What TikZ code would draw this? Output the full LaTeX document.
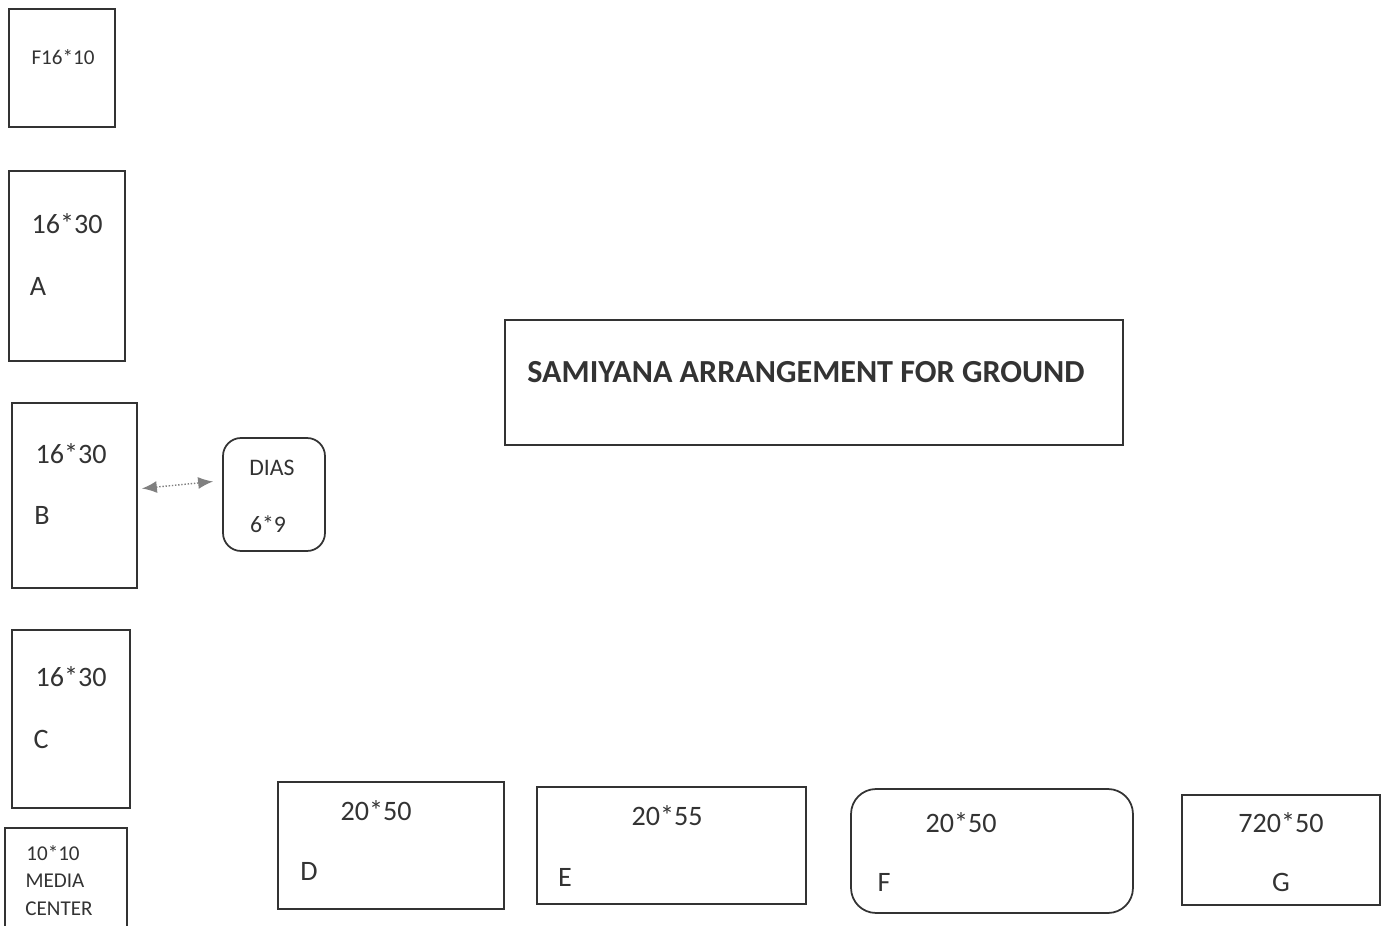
\documentclass[tikz,border=0pt]{standalone}
\usepackage{fontspec}
\setmainfont{Carlito}
\usetikzlibrary{arrows.meta,calc}

\begin{document}
\begin{tikzpicture}[
  x=0.02cm, y=-0.02cm,
  plot/.style={draw=black!80, line width=1pt, inner sep=0pt},
  lbl/.style={inner sep=0pt, text=black!80, font=\fontsize{16}{19}\selectfont},
  small/.style={inner sep=0pt, text=black!80, font=\fontsize{12}{14}\selectfont},
  >={Latex[length=3mm,width=2.4mm]}
]
\useasboundingbox (0,0) rectangle (1383,926);
\clip (0,0) rectangle (1383,926);

% Left column of samiyana plots
\node[plot, minimum width=2.12cm, minimum height=2.36cm] (f16) at (62,68) {};
\node[plot, minimum width=2.32cm, minimum height=3.8cm] (a) at (67,266) {};
\node[plot, minimum width=2.5cm, minimum height=3.7cm] (b) at (74.5,495.5) {};
\node[plot, minimum width=2.36cm, minimum height=3.56cm] (c) at (71,719) {};
\node[plot, minimum width=2.44cm, minimum height=2.24cm] (media) at (66,884) {};

% Dias next to B
\node[plot, rounded corners=0.36cm, minimum width=2.04cm, minimum height=2.26cm] (dias) at (274,494.5) {};

% Title box
\node[plot, minimum width=12.36cm, minimum height=2.5cm] (title) at (814,382.5) {};

% Bottom row of plots
\node[plot, minimum width=4.52cm, minimum height=2.54cm] (d) at (391,845.5) {};
\node[plot, minimum width=5.38cm, minimum height=2.34cm] (e) at (671.5,845.5) {};
\node[plot, rounded corners=0.5cm, minimum width=5.64cm, minimum height=2.48cm] (f) at (992,851) {};
\node[plot, minimum width=3.96cm, minimum height=2.2cm] (g) at (1281,850) {};

% Labels
\node[small] (f16t) at (63,57) {F16*10};
\node[lbl] (at) at (67,224) {16*30};
\node[lbl] (an) at (38,286) {A};
\node[lbl] (bt) at (71,454) {16*30};
\node[lbl] (bn) at (42,515) {B};
\node[lbl] (ct) at (71,677) {16*30};
\node[lbl] (cn) at (41,739) {C};
\node[small] (mediat1) at (53,853) {10*10};
\node[small] (mediat2) at (55,881) {MEDIA};
\node[small] (mediat3) at (59,909) {CENTER};
\node[small, font=\fontsize{13.5}{16}\selectfont] (diast) at (272,468) {DIAS};
\node[small, font=\fontsize{13.5}{16}\selectfont] (diasn) at (268,524) {6*9};
\node[lbl, anchor=west, font=\bfseries\fontsize{18.3}{22}\selectfont] (titlet) at (527,372) {SAMIYANA ARRANGEMENT FOR GROUND};
\node[lbl] (dt) at (376,811) {20*50};
\node[lbl] (dn) at (309,871) {D};
\node[lbl] (et) at (667,816) {20*55};
\node[lbl] (en) at (565,877) {E};
\node[lbl] (ft) at (961,823) {20*50};
\node[lbl] (fn) at (884,882) {F};
\node[lbl] (gt) at (1281,823) {720*50};
\node[lbl] (gn) at (1281,882) {G};

% Link between B and the dias
\draw[<->, gray, densely dotted, line width=0.8pt] ($(b.east)+(4,-7)$) -- ($(dias.west)+(-9,-13)$);
\end{tikzpicture}
\end{document}
